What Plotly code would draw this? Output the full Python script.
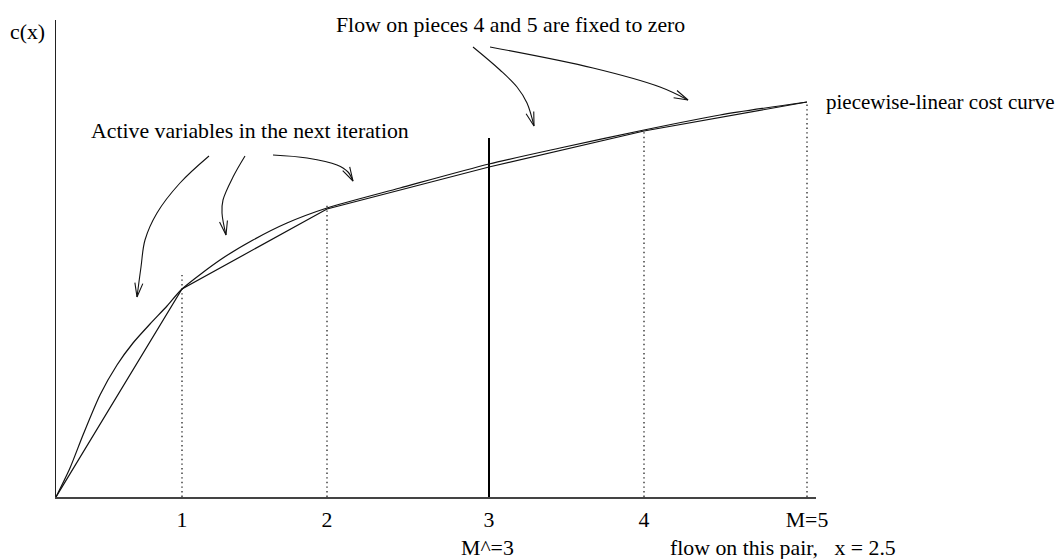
import numpy as np
import plotly.graph_objects as go

# ---- data (x: flow units in chart scale, y: cost units) ----
break_x = [0, 126, 271, 433, 588, 751]
break_y = [0, 208, 288, 330, 366, 395]

curve_x = [0, 14, 27, 44, 61, 77, 94, 111, 126, 164, 197, 231, 271, 344, 433, 504, 588, 664, 751]
curve_y = [0, 29, 62, 102, 132, 154, 173, 191, 208, 237, 257, 274, 289, 309, 333, 349, 367, 382, 395]

tick_vals = [126, 271, 433, 588, 751]
tick_text = ["1", "2", "3", "4", "M=5"]

m_hat_x = 433
m_hat_top = 359
dotted_x = [126, 271, 588, 751]
dotted_top = [222, 294, 366, 395]

arrow_a_x = [153, 124, 101, 89, 85, 81]
arrow_a_y = [341, 314, 284, 257, 230, 200]
arrow_b_x = [189, 177, 167, 166, 170]
arrow_b_y = [341, 320, 297, 284, 262]
arrow_c_x = [217, 251, 281, 292, 297]
arrow_c_y = [342, 339, 332, 325, 316]
arrow_d_x = [417, 444, 461, 471, 478]
arrow_d_y = [450, 427, 410, 394, 371]
arrow_e_x = [434, 537, 604, 632]
arrow_e_y = [450, 429, 410, 397]

X_RANGE = [0, 760]
Y_RANGE = [0, 477]

FONT = "Liberation Serif, Times New Roman, serif"
FS = 21.8
INK = "#111111"

fig = go.Figure()

# dotted verticals
for xv, top in zip(dotted_x, dotted_top):
    fig.add_trace(go.Scatter(x=[xv, xv], y=[0, top], mode="lines",
                             line=dict(color="#333333", width=1.4, dash="1.4px,3.2px"),
                             hoverinfo="skip", showlegend=False))

# M^ vertical line
fig.add_trace(go.Scatter(x=[m_hat_x, m_hat_x], y=[0, m_hat_top], mode="lines",
                         line=dict(color="#000000", width=2),
                         hoverinfo="skip", showlegend=False))

# piecewise-linear
fig.add_trace(go.Scatter(x=break_x, y=break_y, mode="lines",
                         line=dict(color=INK, width=1.2),
                         hoverinfo="skip", showlegend=False))
# smooth cost curve
fig.add_trace(go.Scatter(x=curve_x, y=curve_y, mode="lines",
                         line=dict(color=INK, width=1.2, shape="spline", smoothing=0.7),
                         hoverinfo="skip", showlegend=False))

# arrows
def add_arrow(xs, ys, head_len=14.0, half_w=4.0):
    fig.add_trace(go.Scatter(x=xs, y=ys, mode="lines",
                             line=dict(color=INK, width=1.1, shape="spline", smoothing=1.0),
                             hoverinfo="skip", showlegend=False))
    tip = np.array([xs[-1], ys[-1]], float)
    prev = np.array([xs[-2], ys[-2]], float)
    d = tip - prev
    d = d / np.linalg.norm(d)
    n = np.array([-d[1], d[0]])
    base = tip - d * head_len
    p1 = base + n * half_w
    p2 = base - n * half_w
    fig.add_trace(go.Scatter(x=[p1[0], tip[0], p2[0]], y=[p1[1], tip[1], p2[1]],
                             mode="lines", line=dict(color=INK, width=1.1),
                             hoverinfo="skip", showlegend=False))

add_arrow(arrow_a_x, arrow_a_y)
add_arrow(arrow_b_x, arrow_b_y)
add_arrow(arrow_c_x, arrow_c_y)
add_arrow(arrow_d_x, arrow_d_y)
add_arrow(arrow_e_x, arrow_e_y)


def px(x):
    return (x - X_RANGE[0]) / (X_RANGE[1] - X_RANGE[0])


def py(y):
    return (y - Y_RANGE[0]) / (Y_RANGE[1] - Y_RANGE[0])


font = dict(family=FONT, size=FS, color="#000000")
labels = [
    (-29, 465, "c(x)", "center", FS),
    (454, 472, "Flow on pieces 4 and 5 are fixed to zero", "center", FS),
    (194, 366, "Active variables in the next iteration", "center", FS),
    (768, 395, "piecewise-linear cost curve", "left", 21),
    (431, -51, "M^=3", "center", FS),
    (727, -51, "flow on this pair,   x = 2.5", "center", FS),
]
annots = [dict(x=px(x), y=py(y), text=t, xanchor=xa, yanchor="middle",
               xref="paper", yref="paper", showarrow=False,
               font=dict(family=FONT, size=s, color="#000000"))
          for x, y, t, xa, s in labels]

# page body adds an 8px margin; shift the plot area so it lands where the reference has it
fig.update_layout(
    width=1055, height=551,
    margin=dict(l=48, r=247, t=12, b=62, pad=0),
    paper_bgcolor="white", plot_bgcolor="white",
    annotations=annots,
    showlegend=False,
)
fig.update_xaxes(range=X_RANGE, showgrid=False, zeroline=False,
                 showline=True, linecolor="#444444", linewidth=1.5,
                 tickvals=tick_vals, ticktext=tick_text, ticks="",
                 tickfont=font, ticklabelstandoff=2)
fig.update_yaxes(range=Y_RANGE, showgrid=False, zeroline=False,
                 showline=True, linecolor="#222222", linewidth=1.2,
                 showticklabels=False, ticks="")

fig.write_html("out.html")
